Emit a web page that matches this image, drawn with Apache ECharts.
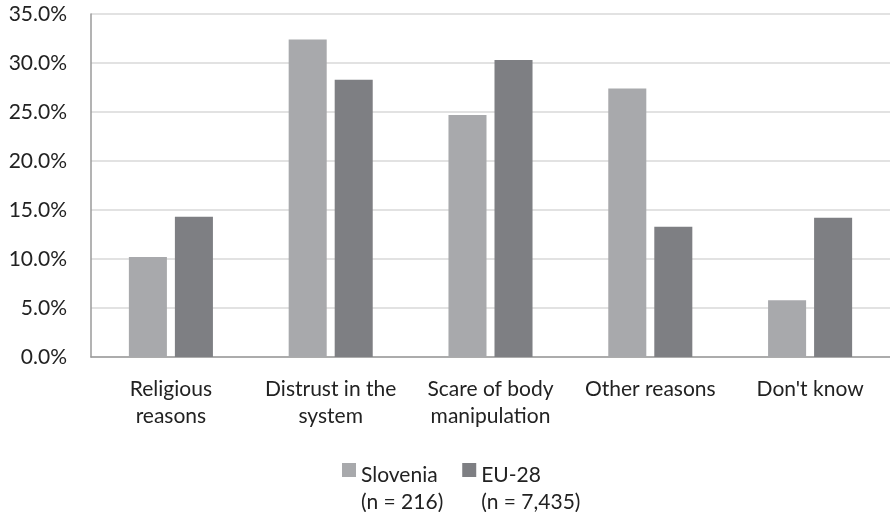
<!DOCTYPE html>
<html>
<head>
<meta charset="utf-8">
<script src="https://cdn.jsdelivr.net/npm/echarts@6/dist/echarts.min.js"></script>
<style>
  html,body{margin:0;padding:0;background:#fff;}
  #chart{width:890px;height:512px;}
</style>
</head>
<body>
<div id="chart"></div>
<script>
var categories = ['Religious\nreasons', 'Distrust in the\nsystem', 'Scare of body\nmanipulation', 'Other reasons', "Don't know"];
var slovenia = [10.2, 32.4, 24.7, 27.4, 5.8];
var eu28 = [14.3, 28.3, 30.3, 13.3, 14.2];
var seriesNames = ['Slovenia\n(n = 216)', 'EU-28\n(n = 7,435)'];

var myChart = echarts.init(document.getElementById('chart'));
myChart.setOption({
  animation: false,
  textStyle: { fontFamily: 'Lato' },
  color: ['#a8a9ac', '#7e7f83'],
  grid: {
    left: 91,
    top: 14,
    width: 804,
    bottom: 155
  },
  legend: {
    left: 342,
    top: 424,
    padding: 0,
    itemWidth: 14,
    itemHeight: 14,
    itemGap: 19,
    icon: 'rect',
    data: seriesNames,
    // spacer first line so the name's first line sits level with the icon
    formatter: function (name) { return '{s| }\n' + name; },
    textStyle: {
      fontSize: 21,
      color: '#222',
      lineHeight: 27,
      rich: { s: { lineHeight: 38, fontSize: 21 } }
    }
  },
  xAxis: {
    type: 'category',
    data: categories,
    axisTick: { show: false },
    axisLine: { lineStyle: { color: '#9a9a9a', width: 1.5 } },
    axisLabel: {
      margin: 19,
      fontSize: 21,
      lineHeight: 27,
      color: '#222',
      interval: 0
    }
  },
  yAxis: {
    type: 'value',
    min: 0,
    max: 35,
    interval: 5,
    axisLine: { show: true, lineStyle: { color: '#9a9a9a', width: 1.5 } },
    axisTick: { show: false },
    splitLine: { lineStyle: { color: '#d9d9d9', width: 1.5 } },
    axisLabel: {
      margin: 24,
      fontSize: 21,
      color: '#222',
      formatter: function (v) { return v.toFixed(1) + '%'; }
    }
  },
  series: [
    {
      name: seriesNames[0],
      type: 'bar',
      data: slovenia,
      barWidth: '23.8%',
      barGap: '21%'
    },
    {
      name: seriesNames[1],
      type: 'bar',
      data: eu28,
      barWidth: '23.8%',
      barGap: '21%'
    }
  ]
});
</script>
</body>
</html>
